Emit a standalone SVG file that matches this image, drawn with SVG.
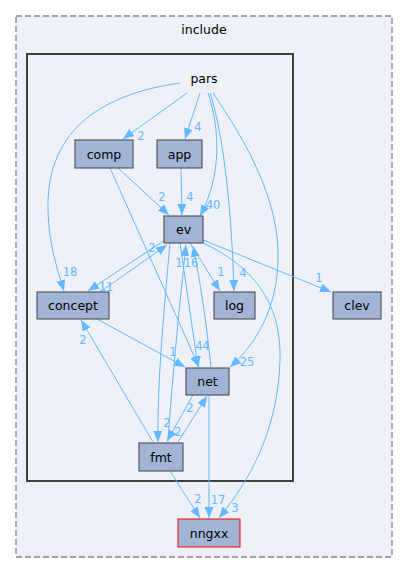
<svg xmlns="http://www.w3.org/2000/svg" width="408" height="573" viewBox="0 0 408 573">
<style>
.cl{fill:#edf0f7}
.outer{stroke:#868686;stroke-width:1.3;stroke-dasharray:6,3}
.inner{stroke:#404040;stroke-width:2}
.nd rect{fill:#a2b4d6;stroke:#404040;stroke-width:1}
.nd text,.lbl{font-family:"DejaVu Sans",sans-serif;font-size:12.5px;fill:#000;text-anchor:middle}
.e path{fill:none;stroke:#63b8ff;stroke-width:1;marker-end:url(#ah)}
.e text{font-family:"DejaVu Sans",sans-serif;font-size:11.5px;fill:#63b8ff;text-anchor:middle}
</style>
<defs>
<marker id="ah" markerUnits="userSpaceOnUse" markerWidth="12" markerHeight="10" refX="11" refY="4.5" orient="auto">
<path d="M0,0 L11,4.5 L0,9 z" fill="#63b8ff"/>
</marker>
</defs>
<g id="cluster_include">
<rect class="cl outer" x="16" y="16" width="376" height="541"/>
<text class="lbl" x="204" y="34">include</text>
</g>
<g id="cluster_pars">
<rect class="cl inner" x="27" y="54" width="266" height="427"/>
<text class="lbl" x="204" y="83">pars</text>
</g>
<g id="edges" class="e">
<path d="M180,83 C95,95 46,135 48,210 C49,245 57,268 64,291"/><text x="70" y="276">18</text>
<path d="M187,93 L123,139"/><text x="141" y="140">2</text>
<path d="M200,93 L185,139"/><text x="198" y="131">4</text>
<path d="M208,93 C220,130 222,175 200,216"/><text x="213" y="209">40</text>
<path d="M210,93 C225,140 232,220 234,291"/><text x="243" y="277">4</text>
<path d="M213,93 C245,140 280,200 278,260 C277,310 255,345 230,367"/><text x="247" y="366">25</text>
<path d="M118,168 L169,215"/><text x="162" y="201">2</text>
<path d="M110,168 L199,367"/><text x="199" y="350">4</text>
<path d="M181,168 L182,215"/><text x="190" y="201">4</text>
<path d="M165,240 L88,291"/><text x="106" y="291">11</text>
<path d="M100,292 L167,245"/><text x="152" y="252">2</text>
<path d="M97,319 L185,367"/><text x="173" y="356">1</text>
<path d="M190,243 L220,291"/><text x="221" y="276">1</text>
<path d="M203,240 L331,292"/><text x="319" y="282">1</text>
<path d="M203,243 C250,265 282,300 280,360 C278,430 250,480 219,518"/><text x="235" y="512">3</text>
<path d="M180,243 L198,367"/><text x="206" y="350">4</text>
<path d="M170,243 C165,300 157,380 158,442"/><text x="167" y="427">2</text>
<path d="M168,442 C172,380 180,300 186,245"/><text x="179" y="267">1</text>
<path d="M211,367 C206,320 200,280 193,246"/><text x="191" y="267">16</text>
<path d="M153,442 L81,320"/><text x="83" y="344">2</text>
<path d="M193,395 L167,441"/><text x="178" y="436">2</text>
<path d="M178,442 L207,396"/><text x="190" y="412">2</text>
<path d="M170,471 L200,518"/><text x="198" y="503">2</text>
<path d="M209,395 L209,518"/><text x="218" y="504">17</text>
</g>
<g id="node_comp" class="nd"><rect x="75" y="140" width="58" height="28"/><text x="104" y="158.5">comp</text></g>
<g id="node_app" class="nd"><rect x="157" y="140" width="45" height="28"/><text x="179.5" y="158.5">app</text></g>
<g id="node_ev" class="nd"><rect x="164" y="216" width="39" height="27"/><text x="183.5" y="234">ev</text></g>
<g id="node_concept" class="nd"><rect x="37" y="292" width="72" height="27"/><text x="73" y="310">concept</text></g>
<g id="node_log" class="nd"><rect x="214" y="292" width="41" height="27"/><text x="234.5" y="310">log</text></g>
<g id="node_clev" class="nd"><rect x="333" y="292" width="48" height="27"/><text x="357" y="310">clev</text></g>
<g id="node_net" class="nd"><rect x="186" y="368" width="43" height="27"/><text x="207.5" y="386">net</text></g>
<g id="node_fmt" class="nd"><rect x="139" y="443" width="44" height="28"/><text x="161" y="461.5">fmt</text></g>
<g id="node_nngxx" class="nd"><rect x="178" y="519" width="62" height="28" style="stroke:#ff0000"/><text x="209" y="537.5">nngxx</text></g>
</svg>
